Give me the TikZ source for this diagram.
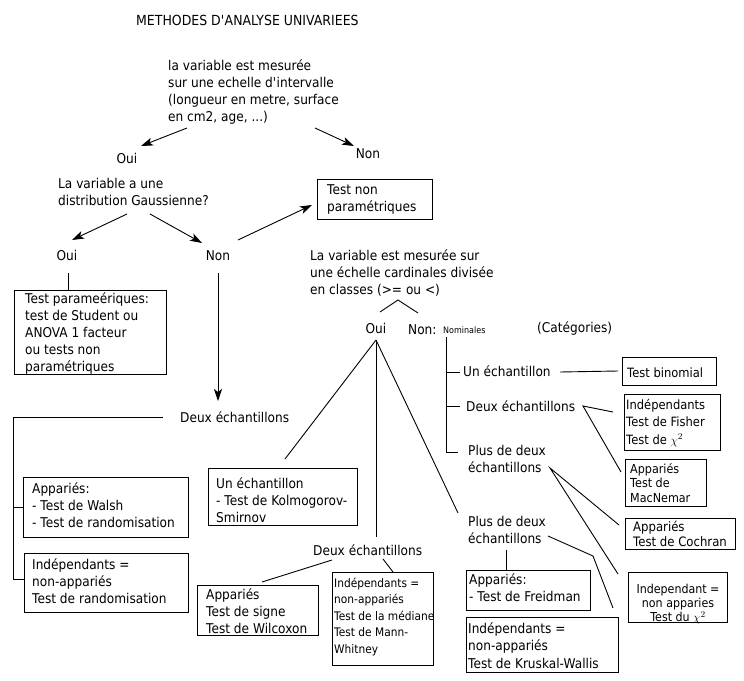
\documentclass[tikz,border=0pt]{standalone}
\usepackage[no-math]{fontspec}
\setmainfont{DejaVu Sans}[FakeStretch=0.9]
\usetikzlibrary{arrows.meta,calc}
\newcommand\fsz[2]{\fontsize{#1}{#2}\selectfont}
\newcommand\mlines[1]{\begin{tabular}[t]{@{}l@{}}#1\end{tabular}}
\newcommand\mlinesc[1]{\begin{tabular}[t]{@{}c@{}}#1\end{tabular}}
\tikzset{
 tx/.style={font=\fsz{13.5}{17}, inner sep=0pt, anchor=base west},
 tc/.style={font=\fsz{13.5}{17}, inner sep=0pt, anchor=base},
 bx/.style={draw=black, line width=0.9pt, anchor=north west, inner sep=0pt, outer sep=0pt},
 ln/.style={draw=black, line width=0.9pt},
 arr/.style={ln, -{Stealth[length=12pt,width=8pt,inset=3pt]}},
}
\begin{document}
\begin{tikzpicture}[x=1pt,y=-1pt]
\fill[white] (0,0) rectangle (744,680);
\useasboundingbox (0,0) rectangle (744,680);

% top part
\node[tx, font=\fsz{13.9}{17}] (title) at (136,25) {METHODES D\textquotesingle ANALYSE UNIVARIEES};
\node[tx] (q1) at (168,70) {\mlines{la variable est mesurée\\sur une echelle d\textquotesingle intervalle\\(longueur en metre, surface\\en cm2, age, ...)}};
\node[tc] (oui1) at (127,163) {Oui};
\node[tc] (non1) at (368,158) {Non};
\node[tx] (q2) at (58,188) {\mlines{La variable a une\\distribution Gaussienne?}};
\node[bx, minimum width=115, minimum height=40] (tnp) at (317,179) {};
\node[tx] (tnpt) at (327,194) {\mlines{Test non\\paramétriques}};
\node[tc] (oui2) at (67,260) {Oui};
\node[tc] (non2) at (218,260) {Non};
\node[bx, minimum width=152, minimum height=84] (par) at (14,290) {};
\node[tx] (part) at (25,303) {\mlines{Test parameériques:\\test de Student ou\\ANOVA 1 facteur\\ou tests non\\paramétriques}};

% left column
\node[tx] (deux1) at (180,422) {Deux échantillons};
\node[bx, minimum width=165, minimum height=60] (walsh) at (23,477) {};
\node[tx] (walsht) at (32,493) {\mlines{Appariés:\\- Test de Walsh\\- Test de randomisation}};
\node[bx, minimum width=164, minimum height=59] (indr) at (24,553) {};
\node[tx] (indrt) at (32,569) {\mlines{Indépendants =\\non-appariés\\Test de randomisation}};

% ordinal scale
\node[tx] (q3) at (310,260) {\mlines{La variable est mesurée sur\\une échelle cardinales divisée\\en classes (>= ou <)}};
\node[tc] (oui3) at (376,333) {Oui};
\node[tx] (non3) at (408,334) {Non:};
\node[tx, font=\fsz{8.9}{10}] (nom) at (443,333) {Nominales};
\node[tx] (cat) at (537,332) {(Catégories)};

\node[bx, minimum width=149, minimum height=57] (ks) at (208,468) {};
\node[tx] (kst) at (216,488) {\mlines{Un échantillon\\- Test de Kolmogorov-\\Smirnov}};
\node[tx] (deux2) at (313,555) {Deux échantillons};
\node[bx, minimum width=121, minimum height=50] (signe) at (197,585) {};
\node[tx] (signet) at (206,599) {\mlines{Appariés\\Test de signe\\Test de Wilcoxon}};
\node[bx, minimum width=101, minimum height=93] (mw) at (332,572) {};
\node[tx, font=\fsz{11.8}{16.5}] (mwt) at (334,587) {\mlines{Indépendants =\\non-appariés\\Test de la médiane\\Test de Mann-\\Whitney}};
\node[tx] (plus1) at (468,526) {\mlines{Plus de deux\\échantillons}};
\node[bx, minimum width=124, minimum height=40] (freid) at (466,570) {};
\node[tx] (freidt) at (469,584) {\mlines{Appariés:\\- Test de Freidman}};
\node[bx, minimum width=152, minimum height=55] (krus) at (466,617) {};
\node[tx, font=\fsz{13.5}{17.5}] (krust) at (468,633) {\mlines{Indépendants =\\non-appariés\\Test de Kruskal-Wallis}};

% nominal scale
\node[tx] (unn) at (463,376) {Un échantillon};
\node[tx] (deuxn) at (466,411) {Deux échantillons};
\node[tx] (plusn) at (468,455) {\mlines{Plus de deux\\échantillons}};
\node[bx, minimum width=94, minimum height=28] (binom) at (622,357) {};
\node[tx, font=\fsz{12.8}{17}] (binomt) at (627,377) {Test binomial};
\node[bx, minimum width=96, minimum height=56] (fish) at (624,394) {};
\node[tx, font=\fsz{12.8}{17.5}] (fisht) at (626,409) {\mlines{Indépendants\\Test de Fisher\\Test de $\chi^2$}};
\node[bx, minimum width=81, minimum height=47] (macn) at (625,459) {};
\node[tx, font=\fsz{12.4}{14.5}] (macnt) at (630,473) {\mlines{Appariés\\Test de\\MacNemar}};
\node[bx, minimum width=110, minimum height=31] (coch) at (625,518) {};
\node[tx, font=\fsz{13}{15}] (cocht) at (633,531) {\mlines{Appariés\\Test de Cochran}};
\node[bx, minimum width=99, minimum height=50] (indep) at (628,572) {};
\node[tc, font=\fsz{12.3}{14}] (indept) at (678,593) {\mlinesc{Independant =\\non apparies\\Test du $\chi^2$}};

% connectors, top
\draw[arr] ($(q1.base west)+(19,58)$) -- ($(oui1.base)+(14,-17)$);
\draw[arr] ($(q1.base west)+(147,58)$) -- ($(non1.base)+(-14,-12)$);
\draw[arr] ($(q2.base west)+(69,26)$) -- ($(oui2.base)+(5,-20)$);
\draw[arr] ($(q2.base west)+(92,26)$) -- ($(non2.base)+(-16,-17)$);
\draw[arr] ($(non2.base)+(20,-20)$) -- ($(tnp.west)+(-5,6)$);
\draw[arr] ($(non2.base)+(0,13)$) -- ($(deux1.base west)+(38,-21)$);
\draw[ln] ($(oui2.base)+(1,13)$) -- ($(par.north west)+(54,0)$);
\draw[ln] ($(deux1.base west)+(-17,-5)$) -- ++(-150,0) |- ($(indr.north west)+(0,26)$);
\draw[ln] (walsh.west) -- ++(-10,0);

% connectors, ordinal
\draw[ln] ($(oui3.base)+(4,-21)$) -- ($(q3.base west)+(88,40)$) -- ($(non3.base west)+(10,-21)$);
\coordinate (apex) at ($(oui3.base)+(0,7)$);
\draw[ln] (apex) -- ($(ks.north)+(2.5,-9)$);
\draw[ln] (apex) -- ($(deux2.base west)+(63,-18)$);
\draw[ln] (apex) -- ($(plus1.base west)+(-10,-13)$);
\draw[ln] ($(deux2.base west)+(19,5)$) -- ($(signe.north west)+(65,-3)$);
\draw[ln] ($(deux2.base west)+(70,4)$) -- ($(mw.north west)+(61,0)$);
\draw[ln] ($(plus1.base west)+(38,24)$) -- ($(freid.north west)+(40,0)$);
\draw[ln] ($(plus1.base west)+(80,10)$) -- ($(plus1.base west)+(125,30)$) -- ($(krus.north east)+(-5,-9)$);

% connectors, nominal
\draw[ln] ($(non3.base west)+(38,3)$) |- ($(plusn.base west)+(-10,-3)$);
\draw[ln] ($(unn.base west)+(-17,-4)$) -- ($(unn.base west)+(-3,-4)$);
\draw[ln] ($(deuxn.base west)+(-20,-5)$) -- ($(deuxn.base west)+(-6,-5)$);
\draw[ln] ($(unn.base west)+(97,-4)$) -- ($(binom.west)+(-4,0)$);
\coordinate (apexd) at ($(deuxn.base west)+(117,-5)$);
\draw[ln] ($(fish.west)+(-11,-10)$) -- (apexd) -- ($(macn.west)+(-4,-10.5)$);
\coordinate (apexp) at ($(plusn.base west)+(82,13)$);
\draw[ln] ($(coch.west)+(-6,-8.5)$) -- (apexp) -- ($(indep.north west)+(-10,2)$);
\end{tikzpicture}
\end{document}
